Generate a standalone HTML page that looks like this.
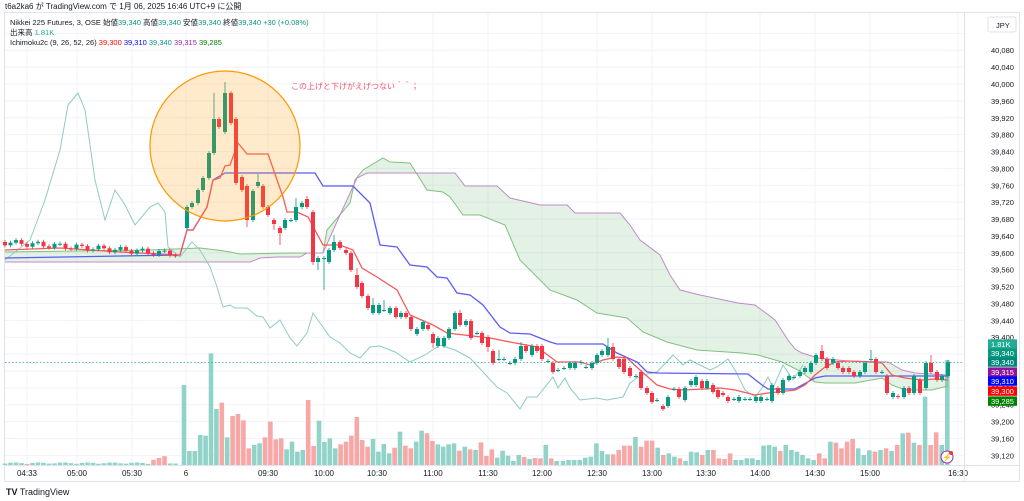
<!DOCTYPE html>
<html><head><meta charset="utf-8"><style>
body{margin:0;background:#fff;width:1024px;height:501px;overflow:hidden}
svg{display:block;font-family:"Liberation Sans","Noto Sans CJK JP",sans-serif}
</style></head><body>
<svg id="s" width="1024" height="501" xmlns="http://www.w3.org/2000/svg"></svg>
<script>
const S=document.getElementById('s');let h='';
const Y=p=>84+(40000-p)*0.422;
// grid
h+='<rect x="4.5" y="12.5" width="1015" height="469" fill="none" stroke="#e0e3eb"/>';
for(let p=40120;p>=39120;p-=40){const y=Y(p);if(y>14&&y<466)h+=`<line x1="5" x2="964" y1="${y}" y2="${y}" stroke="#f0f3fa"/>`;}
const T=[[27,'04:33'],[77,'05:00'],[132,'05:30'],[186,'6'],[268,'09:30'],[324,'10:00'],[377,'10:30'],[433,'11:00'],[488,'11:30'],[542,'12:00'],[597,'12:30'],[652,'13:00'],[706,'13:30'],[760,'14:00'],[815,'14:30'],[870,'15:00'],[958,'16:30']];
T.forEach(t=>{if(t[0]<960)h+=`<line x1="${t[0]}" x2="${t[0]}" y1="13" y2="465" stroke="#f0f3fa"/>`;h+=`<text x="${t[0]}" y="476" font-size="8" fill="#131722" text-anchor="middle">${t[1]}</text>`;});
h+='<line x1="5" x2="1019" y1="465.5" y2="465.5" stroke="#e0e3eb"/><line x1="964.5" x2="964.5" y1="13" y2="481" stroke="#e0e3eb"/>';
// price labels
for(let p=40080;p>=39120;p-=40){const y=Y(p);h+=`<text x="991" y="${y+3}" font-size="7.5" fill="#131722">${(p/1000).toFixed(3).replace('.',',')}</text>`;}
h+='<rect x="988" y="17" width="28" height="15" rx="2" fill="#fff" stroke="#e0e3eb"/><text x="996" y="28" font-size="7.5" fill="#131722">JPY</text>';
// volume
function vbar(x,ht,c){h+=`<rect x="${x-2.3}" y="${465-ht}" width="4.6" height="${ht}" fill="${c}"/>`;}
const G='#92d3c9',R='#f7a7a6';
for(let x=5;x<181;x+=5.5){let ht=1+Math.abs(Math.sin(x*0.7))*1.5;let c=G;if(x>150&&x<170){ht=4+(x-150)/3;c=R;}if(x>=24&&x<32)c=R;vbar(x,ht,c);}
// candles
const C=[[187,228,207],[192,207,203],[198,203,190],[203,190,178],[209,178,153],[214,153,119,93],[219,119,127],[225,132,93,82],[231,93,123],[236,119,183],[242,177,190],[247,186,220,227],[253,220,191],[258,186,182,174],[263,186,207],[268,207,215],[274,220,224,230],[280,228,233,245],[285,228,220],[291,220,220],[296,220,207,198],[302,207,203],[307,199,207,196],[313,212,262,265],[318,262,258,270],[324,258,258,290],[329,262,250,248],[334,250,242,235],[340,242,248],[346,250,253],[351,253,270],[357,275,287,268],[362,283,296],[368,296,308],[373,313,305,298],[379,313,305],[384,310,310,300],[390,313,308],[396,308,317],[401,317,313],[406,313,317],[411,317,329],[417,334,329],[423,329,322],[428,325,329],[433,334,343,348],[438,346,338],[444,346,338],[449,338,329],[455,329,313],[460,313,325,310],[466,325,321],[471,321,338],[477,333,333],[482,333,343],[488,337,347,352],[493,351,363],[499,359,359,350],[504,359,359],[510,363,363],[515,363,359],[521,359,346,342],[526,346,351],[532,355,346],[537,346,351],[542,346,359],[548,361,361],[553,363,372],[558,370,370],[564,368,368],[570,368,363],[575,368,363],[581,363,362],[586,367,367],[592,368,363],[597,363,355],[602,355,351],[608,355,347,338],[613,347,359,343],[619,359,367],[624,359,372],[630,368,376],[636,376,376],[641,372,388],[647,388,393],[652,393,402],[657,400,400],[663,406,409],[668,406,397],[674,389,389],[679,389,397],[685,400,388],[691,385,381],[696,385,377],[702,381,388],[707,388,381],[713,385,392],[718,390,397],[723,393,395],[728,397,401],[734,399,399],[739,401,397],[745,399,399],[750,399,399],[756,401,397],[761,401,397],[767,399,399],[772,401,385],[778,388,393],[783,393,380],[789,380,376],[794,377,377],[800,376,372],[805,372,368],[811,372,363],[816,363,355],[822,351,359,345],[827,359,368],[833,363,359],[838,363,368],[843,368,372],[849,368,372],[854,372,376],[860,376,372],[865,372,363],[871,359,359,350],[876,359,372],[882,372,372],[887,376,393],[893,397,393],[898,396,397],[904,397,388],[909,388,393],[914,393,376],[920,380,393],[926,388,363],[931,363,372,355],[937,372,380],[942,380,376],[948,376,362]];
function dirAt(x){let b=C[0];C.forEach(c=>{if(Math.abs(c[0]-x)<Math.abs(b[0]-x))b=c;});return b[2]<=b[1];}
const t8=[120,318,318,270,272,25,192,173,277,213,207,226,310,300,295,277,230,283,280,313,290,320,315,165,303,227,291,280,310,298,290,272,216,285,305,282,320,297,325,308,260,302,310,290,257,265,288,298,305,298,295,317,305,313,315,292,333,313,338,317,332,348,330,336,342,339,340,300,340,348,348];
t8.forEach((t,i)=>{const x=184+5.4*i;if(x<561)vbar(x,(360-t)/3,dirAt(x)?G:R);});
const t9=[348,345,345,345,338,335,295,318,328,328,315,302,302,276,305,287,287,308,330,325,335,340,348,320,322,330,315,315,340,342,325,345,345,340,340,345,302,300,305,318,300,315,320,330,340,345,325,340,290,293,310,290,282,310,330,316,320,315,310,318,300,265,263,293,300,155,300,262,300,45];
t9.forEach((t,i)=>{const x=563+5.57*i;vbar(x,(360-t)/3,dirAt(x)?G:R);});
// cloud
const A=[[5,252],[150,250],[200,248],[217,250],[230,252],[240,254],[290,253],[323,253],[327,230],[350,203],[355,180],[363,170],[383,158],[390,162],[410,163],[427,190],[443,192],[450,197],[463,215],[480,215],[505,225],[520,260],[550,290],[577,300],[597,313],[627,318],[643,332],[667,342],[697,350],[742,353],[758,355],[782,362],[798,370],[815,382],[825,383],[855,383],[882,378],[892,385],[905,390],[932,390],[948,386]];
const B=[[5,262],[250,262],[260,258],[277,257],[300,257],[307,253],[323,253],[340,215],[357,178],[367,173],[455,173],[465,186],[497,186],[510,198],[540,205],[567,205],[575,213],[620,213],[630,225],[640,240],[660,255],[670,275],[680,290],[700,295],[738,303],[755,305],[775,320],[788,340],[795,349],[802,353],[818,358],[848,361],[888,362],[902,370],[915,373],[948,375]];
const P=a=>a.map(p=>p.join(',')).join(' ');
h+=`<polygon points="${P(A)} ${P(B.slice().reverse())}" fill="rgba(67,160,71,0.14)"/>`;
h+=`<polyline points="${P(A)}" fill="none" stroke="#7fc07f" stroke-width="1"/>`;
h+=`<polyline points="${P(B)}" fill="none" stroke="#c08ac8" stroke-width="1"/>`;
// chikou
const CH=[[5,260],[30,240],[45,200],[60,150],[68,105],[78,93],[85,110],[95,180],[105,220],[115,190],[125,205],[135,225],[150,207],[158,203],[165,212],[168,247],[180,257],[192,242],[200,250],[210,267],[217,287],[223,307],[230,305],[235,308],[247,308],[257,316],[263,317],[270,328],[280,320],[290,338],[297,346],[307,333],[313,313],[320,323],[330,337],[340,343],[350,353],[360,358],[370,347],[380,346],[395,352],[410,362],[425,355],[440,345],[455,350],[470,358],[483,372],[497,387],[507,393],[520,409],[527,397],[537,397],[553,377],[558,388],[565,378],[570,388],[580,400],[597,398],[607,400],[623,397],[630,383],[637,378],[643,375],[657,372],[673,355],[683,365],[690,360],[700,365],[710,370],[717,367],[728,359],[735,370],[745,390],[755,397],[762,388],[768,377],[773,388],[783,365],[793,380],[803,365]];
h+=`<polyline points="${P(CH)}" fill="none" stroke="#8fcbc2" stroke-width="1"/>`;
// kijun & tenkan
const KJ=[[5,258],[180,255],[187,230],[193,230],[207,207],[213,180],[225,173],[315,173],[323,186],[353,186],[370,203],[380,245],[397,247],[410,265],[427,267],[437,277],[447,278],[457,293],[470,295],[483,305],[500,327],[510,333],[530,334],[550,342],[557,344],[603,344],[617,353],[637,362],[647,372],[657,373],[748,374],[762,385],[768,389],[795,389],[815,378],[825,376],[948,376]];
const TK=[[5,250],[60,248],[120,252],[180,255],[187,230],[193,230],[207,207],[213,180],[220,178],[225,166],[230,165],[238,143],[247,154],[268,154],[283,197],[287,212],[297,212],[308,217],[323,245],[340,245],[353,250],[362,268],[377,277],[397,290],[410,315],[433,325],[447,333],[490,338],[510,342],[537,347],[545,353],[557,362],[580,362],[590,365],[603,360],[617,357],[627,358],[640,370],[657,385],[670,389],[683,390],[703,389],[720,388],[735,390],[755,395],[768,393],[795,390],[805,385],[815,375],[825,367],[835,362],[848,361],[872,362],[882,363],[892,375],[905,378],[922,380],[935,379],[948,380]];
h+=`<polyline points="${P(KJ)}" fill="none" stroke="#5b5bf5" stroke-width="1.3"/>`;
h+=`<polyline points="${P(TK)}" fill="none" stroke="#f55a5a" stroke-width="1.3"/>`;
// premarket candles
let prev=242;
for(let x=5;x<181;x+=5.5){const c=242+(x/180)*12+3*Math.sin(x*0.3);const o=prev;prev=c;C.unshift([x,o,c]);}
// draw candles
C.forEach(c=>{const[x,o,cl]=c;const up=cl<=o;const col=up?'#089981':'#f23645';const top=Math.min(o,cl),bot=Math.max(o,cl);let hi=c[3]!==undefined&&c[3]<top?c[3]:top-2;let lo=c[3]!==undefined&&c[3]>bot?c[3]:bot+2;
h+=`<line x1="${x}" x2="${x}" y1="${hi}" y2="${lo}" stroke="${col}" stroke-width="0.8"/>`;h+=`<rect x="${x-2}" y="${top}" width="4" height="${Math.max(1,bot-top)}" fill="${col}"/>`;});
h+=`<line x1="5" x2="964" y1="362.5" y2="362.5" stroke="#26a69a" stroke-dasharray="1.5,2" stroke-width="0.8"/>`;
// circle + note
h+=`<circle cx="225" cy="146" r="75" fill="rgba(255,152,0,0.2)" stroke="#ff9800" stroke-width="1.2"/>`;
h+=`<text x="291" y="89" font-size="8" fill="#f2556a">この上げと下げがえげつない＾＾；</text>`;
// tags
const tags=[['1.81K','#22ab94',344],['39,340','#089981',353],['39,340','#00897b',362],['39,315','#8e1599',372],['39,310','#0000ff',381],['39,300','#ff0000',391],['39,285','#008000',401]];
tags.forEach(t=>{h+=`<rect x="988" y="${t[2]-4.6}" width="29" height="9.4" fill="${t[1]}"/><text x="991" y="${t[2]+3}" font-size="7.5" fill="#fff">${t[0]}</text>`;});
// flash icon
h+=`<circle cx="947" cy="457" r="6" fill="#fff" stroke="#9c27b0"/><text x="947" y="460" font-size="8" fill="#9c27b0" text-anchor="middle">⚡</text><circle cx="951" cy="453" r="2" fill="#f23645"/>`;
// header
h+=`<text x="5" y="9" font-size="8" fill="#131722">t6a2ka6 が TradingView.com で 1月 06, 2025 16:46 UTC+9 に公開</text>`;
h+=`<text x="10" y="25" font-size="7.5" fill="#131722">Nikkei 225 Futures, 3, OSE  始値<tspan fill="#089981">39,340</tspan> 高値<tspan fill="#089981">39,340</tspan> 安値<tspan fill="#089981">39,340</tspan> 終値<tspan fill="#089981">39,340 +30 (+0.08%)</tspan></text>`;
h+=`<text x="10" y="35" font-size="7.5" fill="#131722">出来高 <tspan fill="#22ab94">1.81K</tspan></text>`;
h+=`<text x="10" y="45" font-size="7.5" fill="#131722">Ichimoku2c (9, 26, 52, 26) <tspan fill="#ff0000">39,300</tspan> <tspan fill="#0000ff">39,310</tspan> <tspan fill="#089981">39,340</tspan> <tspan fill="#9c27b0">39,315</tspan> <tspan fill="#008000">39,285</tspan></text>`;
h+=`<text x="6" y="495" font-size="9" fill="#131722"><tspan font-weight="bold">TV</tspan> TradingView</text>`;
S.innerHTML=h;
</script>
</body></html>
